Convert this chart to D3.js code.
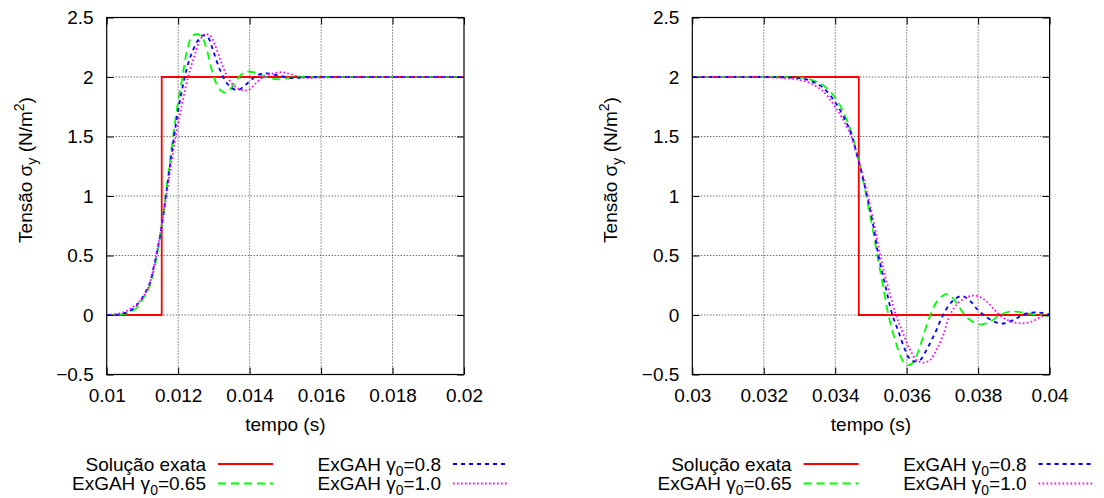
<!DOCTYPE html>
<html>
<head>
<meta charset="utf-8">
<script src="https://cdn.jsdelivr.net/npm/d3@7"></script>
<style>
  html, body { margin: 0; padding: 0; background: #fff; }
  svg { display: block; }
  text { font-family: "Liberation Sans", Arial, Helvetica, sans-serif; fill: #000; }
</style>
</head>
<body>
<svg id="chart" width="1104" height="498"></svg>
<script>
// ---------------- DATA ----------------
const yTicks = [-0.5, 0, 0.5, 1, 1.5, 2, 2.5];
const yTickLabels = ["\u22120.5", "0", "0.5", "1", "1.5", "2", "2.5"];

const xTicksLeft = [0.010, 0.012, 0.014, 0.016, 0.018, 0.020];
const xTickLabelsLeft = ["0.01", "0.012", "0.014", "0.016", "0.018", "0.02"];
const xTicksRight = [0.030, 0.032, 0.034, 0.036, 0.038, 0.040];
const xTickLabelsRight = ["0.03", "0.032", "0.034", "0.036", "0.038", "0.04"];

const seriesNames = ["Solução exata", "ExGAH γ0=0.65", "ExGAH γ0=0.8", "ExGAH γ0=1.0"];

// Left panel (rising front)
const tL_exact = [0.010, 0.01154, 0.020];
const vL_exact = [0, 2, 2];

const tL_g065 = [0.0100, 0.01035, 0.01063, 0.01082, 0.01096, 0.01110, 0.01121, 0.01130, 0.01142, 0.01154, 0.01168, 0.01182, 0.01196, 0.01212, 0.01224, 0.01238, 0.01252, 0.01266, 0.01280, 0.01294, 0.01306, 0.01322, 0.01336, 0.01354, 0.01373, 0.01392, 0.01410, 0.01429, 0.01457, 0.01485, 0.01522, 0.01600, 0.01700, 0.02000];
const vL_g065 = [0, 0.003, 0.02, 0.056, 0.11, 0.18, 0.25, 0.35, 0.52, 0.75, 1.08, 1.41, 1.72, 2.0, 2.21, 2.34, 2.36, 2.34, 2.23, 2.06, 1.95, 1.88, 1.87, 1.93, 2.01, 2.045, 2.04, 2.02, 1.99, 1.98, 2.0, 2.0, 2.0, 2.0];

const tL_g080 = [0.0100, 0.01035, 0.01063, 0.01082, 0.01096, 0.01110, 0.01121, 0.01130, 0.01142, 0.01154, 0.01168, 0.01182, 0.01196, 0.01210, 0.01224, 0.01238, 0.01256, 0.01270, 0.01284, 0.01298, 0.01317, 0.01336, 0.01354, 0.01368, 0.01387, 0.01406, 0.01429, 0.01448, 0.01485, 0.01522, 0.01559, 0.01650, 0.02000];
const vL_g080 = [0, 0.005, 0.03, 0.075, 0.13, 0.20, 0.27, 0.38, 0.55, 0.75, 1.05, 1.36, 1.65, 1.88, 2.07, 2.20, 2.31, 2.35, 2.33, 2.22, 2.06, 1.95, 1.90, 1.89, 1.93, 1.98, 2.025, 2.03, 2.01, 1.99, 2.0, 2.0, 2.0];

const tL_g100 = [0.0100, 0.01017, 0.01045, 0.01068, 0.01087, 0.01101, 0.01115, 0.01130, 0.01142, 0.01154, 0.01168, 0.01182, 0.01196, 0.01210, 0.01222, 0.01233, 0.01247, 0.01261, 0.01275, 0.01289, 0.01303, 0.01322, 0.01340, 0.01359, 0.01378, 0.01396, 0.01415, 0.01438, 0.01466, 0.01490, 0.01513, 0.01541, 0.01569, 0.01597, 0.01700, 0.02000];
const vL_g100 = [0, 0.005, 0.02, 0.056, 0.10, 0.15, 0.22, 0.38, 0.55, 0.75, 1.02, 1.30, 1.55, 1.76, 1.93, 2.06, 2.19, 2.31, 2.36, 2.35, 2.27, 2.11, 1.99, 1.92, 1.89, 1.89, 1.94, 2.0, 2.03, 2.04, 2.025, 2.0, 1.99, 1.995, 2.0, 2.0];

// Right panel (falling front)
const tR_exact = [0.030, 0.03466, 0.040];
const vR_exact = [2, 0, 0];

const tR_g065 = [0.0300, 0.0310, 0.0320, 0.03255, 0.03301, 0.03329, 0.03366, 0.03404, 0.03441, 0.03464, 0.03478, 0.03502, 0.03518, 0.03531, 0.03549, 0.03562, 0.03576, 0.03590, 0.03600, 0.03614, 0.03632, 0.03646, 0.03665, 0.03684, 0.03710, 0.03730, 0.03749, 0.03772, 0.03805, 0.03833, 0.03861, 0.03893, 0.03935, 0.03973, 0.04000];
const vR_g065 = [2, 2, 2, 2.0, 1.995, 1.98, 1.93, 1.81, 1.57, 1.32, 1.13, 0.77, 0.50, 0.29, 0.0, -0.154, -0.29, -0.39, -0.42, -0.41, -0.31, -0.18, -0.01, 0.11, 0.176, 0.14, 0.056, -0.03, -0.08, -0.056, 0.0, 0.03, 0.015, 0.0, -0.01];

const tR_g080 = [0.0300, 0.0310, 0.0320, 0.03255, 0.03301, 0.03329, 0.03366, 0.03404, 0.03441, 0.03464, 0.03480, 0.03506, 0.03521, 0.03537, 0.03560, 0.03576, 0.03595, 0.03609, 0.03623, 0.03637, 0.03656, 0.03679, 0.03702, 0.03726, 0.03754, 0.03777, 0.03800, 0.03824, 0.03852, 0.03875, 0.03903, 0.03935, 0.03973, 0.04000];
const vR_g080 = [2, 2, 2, 1.998, 1.99, 1.97, 1.91, 1.77, 1.55, 1.31, 1.12, 0.76, 0.50, 0.29, 0.0, -0.13, -0.29, -0.37, -0.39, -0.38, -0.29, -0.154, 0.0, 0.11, 0.16, 0.12, 0.04, -0.02, -0.064, -0.07, -0.036, 0.014, 0.02, 0.005];

const tR_g100 = [0.0300, 0.0310, 0.0320, 0.03255, 0.03301, 0.03329, 0.03366, 0.03404, 0.03441, 0.03464, 0.03481, 0.03509, 0.03526, 0.03543, 0.03570, 0.03590, 0.03609, 0.03628, 0.03646, 0.03665, 0.03684, 0.03702, 0.03721, 0.03744, 0.03772, 0.03796, 0.03819, 0.03842, 0.03866, 0.03893, 0.03921, 0.03949, 0.03977, 0.04000];
const vR_g100 = [2, 2, 1.998, 1.99, 1.975, 1.95, 1.88, 1.73, 1.53, 1.31, 1.13, 0.76, 0.50, 0.29, 0.0, -0.154, -0.29, -0.38, -0.40, -0.38, -0.29, -0.17, 0.0, 0.10, 0.155, 0.16, 0.126, 0.056, -0.014, -0.056, -0.07, -0.056, -0.014, 0.005];

// ---------------- STYLE / LAYOUT ----------------
const FONT = 19;
const SUB = 14;
const styles = [
  { color: "#ff0000", dash: null },
  { color: "#00ff00", dash: "8,5" },
  { color: "#0000ff", dash: "4,4" },
  { color: "#ff00ff", dash: "1.6,2.4" }
];

const panels = [
  { x0: 106.7, x1: 464, domain: [0.01, 0.02], ticks: xTicksLeft, labels: xTickLabelsLeft,
    series: [[tL_exact, vL_exact], [tL_g065, vL_g065], [tL_g080, vL_g080], [tL_g100, vL_g100]] },
  { x0: 692.3, x1: 1049.6, domain: [0.03, 0.04], ticks: xTicksRight, labels: xTickLabelsRight,
    series: [[tR_exact, vR_exact], [tR_g065, vR_g065], [tR_g080, vR_g080], [tR_g100, vR_g100]] }
];
const yTop = 17.5, yBot = 374.5;

const svg = d3.select("#chart");
svg.append("rect").attr("width", 1104).attr("height", 498).attr("fill", "#fff");

panels.forEach((p, pi) => {
  const x = d3.scaleLinear().domain(p.domain).range([p.x0, p.x1]);
  const y = d3.scaleLinear().domain([-0.5, 2.5]).range([yBot, yTop]);
  const g = svg.append("g");

  // grid
  const grid = g.append("g")
    .attr("stroke", "#333").attr("stroke-width", 1).attr("stroke-dasharray", "1,2").attr("fill", "none");
  p.ticks.slice(1, -1).forEach(t => {
    grid.append("line").attr("x1", x(t)).attr("x2", x(t)).attr("y1", yTop).attr("y2", yBot);
  });
  yTicks.slice(1, -1).forEach(v => {
    grid.append("line").attr("x1", p.x0).attr("x2", p.x1).attr("y1", y(v)).attr("y2", y(v));
  });

  // clip
  const cid = "clip" + pi;
  svg.append("clipPath").attr("id", cid).append("rect")
    .attr("x", p.x0).attr("y", yTop).attr("width", p.x1 - p.x0).attr("height", yBot - yTop);

  const plot = g.append("g").attr("clip-path", `url(#${cid})`);
  p.series.forEach(([ts, vs], si) => {
    const pts = ts.map((t, i) => [t, vs[i]]);
    const line = d3.line()
      .x(d => x(d[0])).y(d => y(d[1]))
      .curve(si === 0 ? d3.curveStepAfter : d3.curveCatmullRom.alpha(0.5));
    const path = plot.append("path").datum(pts)
      .attr("d", line)
      .attr("fill", "none")
      .attr("stroke", styles[si].color)
      .attr("stroke-width", 1.8);
    if (styles[si].dash) path.attr("stroke-dasharray", styles[si].dash);
  });

  // axes with inward ticks
  const axB = d3.axisBottom(x).tickValues(p.ticks).tickFormat((d, i) => p.labels[i]).tickSize(-7).tickPadding(14);
  const axT = d3.axisTop(x).tickValues(p.ticks).tickFormat("").tickSize(-7);
  const axL = d3.axisLeft(y).tickValues(yTicks).tickFormat((d, i) => yTickLabels[i]).tickSize(-7).tickPadding(13);
  const axR = d3.axisRight(y).tickValues(yTicks).tickFormat("").tickSize(-7);

  const styleAxis = sel => {
    sel.select(".domain").remove();
    sel.selectAll(".tick line").attr("stroke", "#000").attr("stroke-width", 1);
    sel.selectAll(".tick text").attr("font-size", FONT).attr("font-family", null).attr("fill", "#000");
  };
  g.append("g").attr("transform", `translate(0,${yBot})`).call(axB).call(styleAxis);
  g.append("g").attr("transform", `translate(0,${yTop})`).call(axT).call(styleAxis);
  g.append("g").attr("transform", `translate(${p.x0},0)`).call(axL).call(styleAxis);
  g.append("g").attr("transform", `translate(${p.x1},0)`).call(axR).call(styleAxis);

  // frame
  g.append("rect").attr("x", p.x0).attr("y", yTop).attr("width", p.x1 - p.x0).attr("height", yBot - yTop)
    .attr("fill", "none").attr("stroke", "#000").attr("stroke-width", 1.2);

  // x label
  g.append("text").attr("x", (p.x0 + p.x1) / 2).attr("y", 431).attr("text-anchor", "middle")
    .attr("font-size", FONT).text("tempo (s)");

  // y label
  const yl = g.append("text")
    .attr("transform", `translate(${p.x0 - 75},170) rotate(-90)`)
    .attr("text-anchor", "middle").attr("font-size", FONT);
  yl.append("tspan").text("Tensão σ");
  yl.append("tspan").attr("dy", 5).attr("font-size", SUB).text("y");
  yl.append("tspan").attr("dy", -5).text(" (N/m");
  yl.append("tspan").attr("dy", -8).attr("font-size", SUB).text("2");
  yl.append("tspan").attr("dy", 8).text(")");

  // legend
  const off = p.x0 - 106.7;
  const legPos = [
    { tx: 206, lx0: 218, lx1: 273, y: 464 },
    { tx: 206, lx0: 218, lx1: 273, y: 483.5 },
    { tx: 441, lx0: 453, lx1: 508, y: 464 },
    { tx: 441, lx0: 453, lx1: 508, y: 483.5 }
  ];
  seriesNames.forEach((name, si) => {
    const lp = legPos[si];
    const t = g.append("text").attr("x", lp.tx + off).attr("y", lp.y + 6.5)
      .attr("text-anchor", "end").attr("font-size", FONT);
    const m = name.match(/^(.*γ)0(=.*)$/);
    if (m) {
      t.append("tspan").text(m[1]);
      t.append("tspan").attr("dy", 5).attr("font-size", SUB).text("0");
      t.append("tspan").attr("dy", -5).text(m[2]);
    } else {
      t.text(name);
    }
    const ln = g.append("line").attr("x1", lp.lx0 + off).attr("x2", lp.lx1 + off)
      .attr("y1", lp.y).attr("y2", lp.y)
      .attr("stroke", styles[si].color).attr("stroke-width", 1.8);
    if (styles[si].dash) ln.attr("stroke-dasharray", styles[si].dash);
  });
});
</script>
</body>
</html>
